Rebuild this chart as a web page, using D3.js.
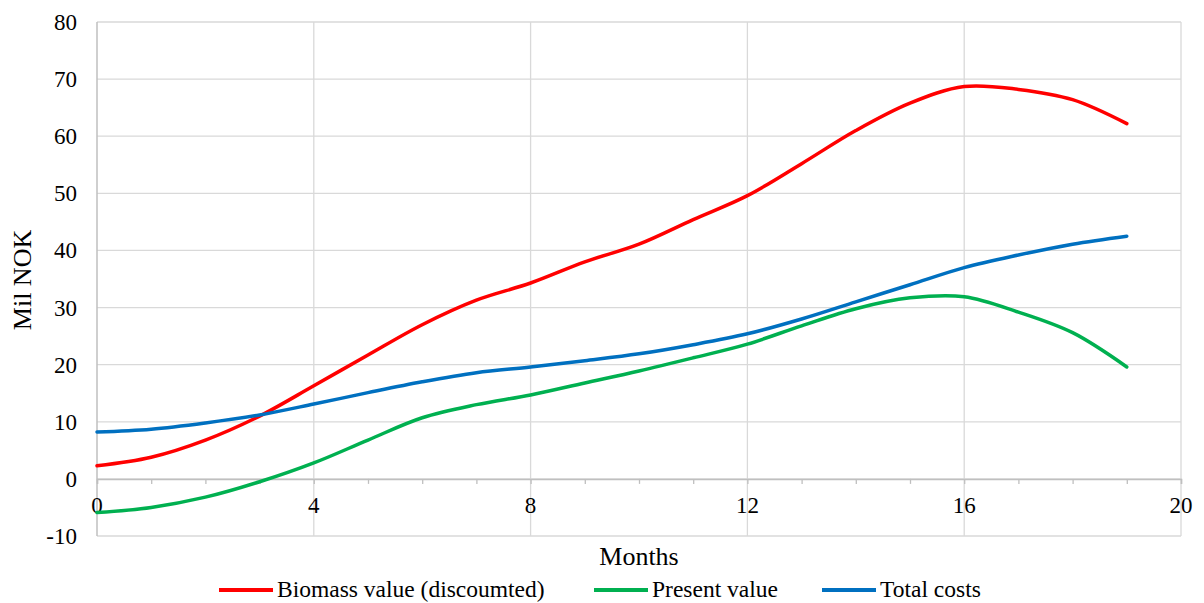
<!DOCTYPE html>
<html>
    <head>
        <meta charset="utf-8">
        <script src="https://d3js.org/d3.v7.min.js"></script>
        <style>
            body { margin: 0; background: #fff; }
            svg text { font-family: 'Liberation Serif', 'Times New Roman', Times, serif; fill: #000; }
        </style>
    </head>
    <body>
        <script>
            var months = d3.range(20);
            var biomass = [2.3, 3.8, 6.8, 11, 16.3, 21.7, 27, 31.3, 34.3, 38, 41.1, 45.4, 49.6, 55.2, 61, 65.8, 68.7, 68.2, 66.4, 62.2];
            var present = [-5.9, -5, -3.2, -0.5, 2.8, 6.8, 10.7, 13, 14.7, 16.8, 18.9, 21.2, 23.6, 26.8, 29.8, 31.7, 31.9, 29.2, 25.6, 19.6];
            var costs = [8.2, 8.7, 9.8, 11.2, 13.1, 15.1, 17, 18.6, 19.6, 20.7, 21.9, 23.5, 25.4, 28, 31, 34, 37, 39.2, 41.1, 42.5];
            var xTicks = [0, 4, 8, 12, 16, 20];
            var yTicks = [-10, 0, 10, 20, 30, 40, 50, 60, 70, 80];
            var seriesNames = ['Biomass value (discoumted)', 'Present value', 'Total costs'];
            var seriesColors = ['#ff0000', '#00b050', '#0070c0'];

            var width = 1204, height = 603;
            var margin = { top: 22, right: 23, bottom: 67, left: 97 };
            var serif = "'Liberation Serif', 'Times New Roman', Times, serif";

            var svg = d3.select('body')
                        .append('svg')
                        .attr('width', width)
                        .attr('height', height)
                        .attr('font-family', serif);

            var x = d3.scaleLinear().domain([0, 20]).range([margin.left, width - margin.right]);
            var y = d3.scaleLinear().domain([-10, 80]).range([height - margin.bottom, margin.top]);

            // gridlines
            svg.append('g').selectAll('line')
                .data(yTicks)
                .enter().append('line')
                    .attr('x1', x(0)).attr('x2', x(20))
                    .attr('y1', function(d) { return y(d); })
                    .attr('y2', function(d) { return y(d); })
                    .style('stroke', '#d9d9d9')
                    .style('stroke-width', 1.3);

            svg.append('g').selectAll('line')
                .data(xTicks.slice(1))
                .enter().append('line')
                    .attr('x1', function(d) { return x(d); })
                    .attr('x2', function(d) { return x(d); })
                    .attr('y1', y(80)).attr('y2', y(-10))
                    .style('stroke', '#d9d9d9')
                    .style('stroke-width', 1.3);

            // left axis line
            svg.append('line')
                .attr('x1', x(0)).attr('x2', x(0))
                .attr('y1', y(80)).attr('y2', y(-10))
                .style('stroke', '#bfbfbf')
                .style('stroke-width', 1.5);

            // x axis at zero with minor ticks each month
            var xAxis = d3.axisBottom(x)
                .tickValues(d3.range(21))
                .tickSize(5)
                .tickFormat('');
            var gx = svg.append('g')
                .attr('transform', 'translate(0,' + y(0) + ')')
                .call(xAxis);
            gx.select('.domain').style('stroke', '#bfbfbf').style('stroke-width', 1.5);
            gx.selectAll('.tick line').style('stroke', '#bfbfbf').style('stroke-width', 1.3);

            svg.append('g').selectAll('text')
                .data(xTicks)
                .enter().append('text')
                    .attr('x', function(d) { return x(d); })
                    .attr('y', y(0) + 34)
                    .attr('text-anchor', 'middle')
                    .attr('font-family', serif)
                    .style('font-size', '23px')
                    .text(function(d) { return d; });

            svg.append('g').selectAll('text')
                .data(yTicks)
                .enter().append('text')
                    .attr('x', x(0) - 20)
                    .attr('y', function(d) { return y(d) + 8; })
                    .attr('text-anchor', 'end')
                    .attr('font-family', serif)
                    .style('font-size', '23px')
                    .text(function(d) { return d; });

            // titles
            svg.append('text')
                .attr('transform', 'translate(31,280) rotate(-90)')
                .attr('text-anchor', 'middle')
                .attr('font-family', serif)
                .style('font-size', '26px')
                .text('Mil NOK');

            svg.append('text')
                .attr('x', x(10))
                .attr('y', 565)
                .attr('text-anchor', 'middle')
                .attr('font-family', serif)
                .style('font-size', '26px')
                .text('Months');

            // lines
            var line = d3.line()
                .x(function(d, i) { return x(months[i]); })
                .y(function(d) { return y(d); })
                .curve(d3.curveCatmullRom.alpha(0.5));

            [biomass, present, costs].forEach(function(s, i) {
                svg.append('path')
                    .datum(s)
                    .attr('d', line)
                    .style('fill', 'none')
                    .style('stroke', seriesColors[i])
                    .style('stroke-width', 3.5)
                    .style('stroke-linecap', 'round');
            });

            // legend
            var legendX = [219, 594, 822];
            var legend = svg.append('g').selectAll('g')
                .data(seriesNames)
                .enter().append('g')
                    .attr('transform', function(d, i) { return 'translate(' + legendX[i] + ',590)'; });
            legend.append('line')
                .attr('x1', 0).attr('x2', 54)
                .style('stroke', function(d, i) { return seriesColors[i]; })
                .style('stroke-width', 4);
            legend.append('text')
                .attr('x', 58)
                .attr('y', 7)
                .attr('font-family', serif)
                .style('font-size', '23.5px')
                .text(function(d) { return d; });
        </script>
    </body>
</html>
